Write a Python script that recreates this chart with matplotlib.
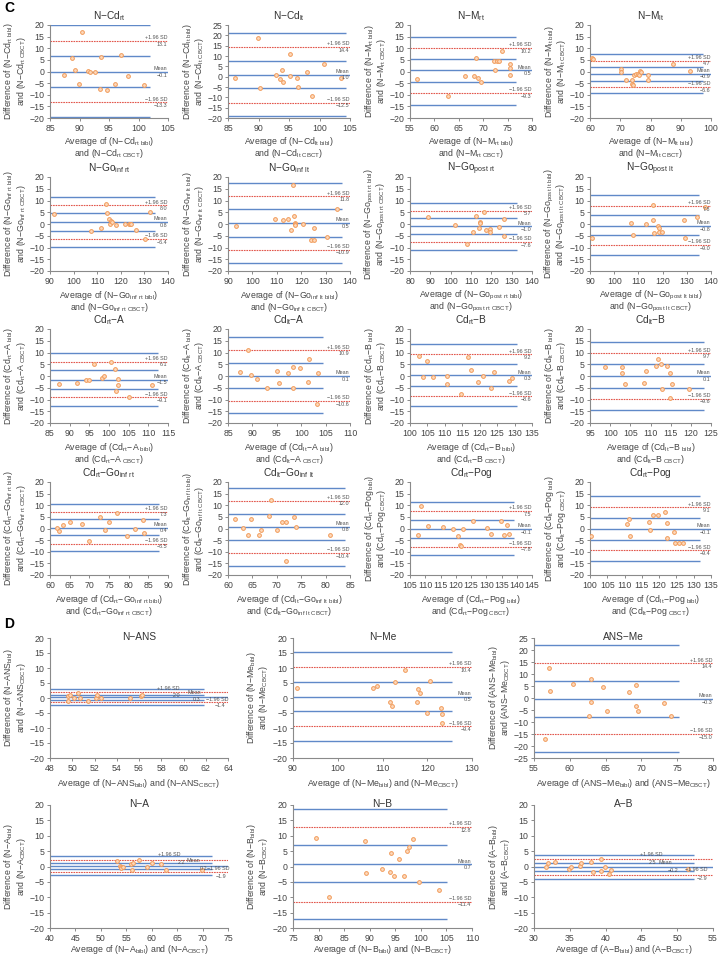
"""
Bland-Altman agreement plots, bibl vs CBCT measurements (panels C and D).
"""

import matplotlib
matplotlib.use("Agg")
import matplotlib.pyplot as plt

plt.rcParams["font.family"] = ["Liberation Sans", "DejaVu Sans"]
plt.rcParams["mathtext.default"] = "regular"

BLUE = "#6089c8"
RED = "#e2574c"
ORANGE_EDGE = "#f19a58"
ORANGE_FACE = "#fdd9bc"
GREY = "#8a8a8a"
TEXT = "#555555"
LABEL = "#444444"

# ---------------- section C ----------------
ncd_rt_avg = [87.3, 88.8, 89.2, 89.9, 90.5, 91.5, 91.8, 92.7, 93.5, 93.6, 94.7, 96.0, 97.1, 98.2, 100.9]
ncd_rt_diff = [-1.4, 6.0, 0.7, -5.3, 17.0, 0.1, -0.3, -0.3, -7.6, 6.4, -7.9, -5.4, 7.0, -2.1, -5.7]
ncd_rt_loa = [13.1, -0.1, -13.3]
ncd_rt_ci = [19.8, 6.8, -6.8, -19.6]

ncd_lt_avg = [86.1, 89.9, 90.3, 92.8, 93.6, 93.8, 94.0, 95.1, 95.1, 96.3, 96.4, 98.0, 98.7, 100.7, 103.5]
ncd_lt_diff = [-0.6, 18.6, -5.4, 0.6, -1.2, 3.0, -2.8, 11.0, 0.2, -0.7, -4.9, 2.5, -9.5, 6.0, -0.6]
ncd_lt_loa = [14.4, 1.0, -12.5]
ncd_lt_ci = [21.0, 7.8, -5.7, -19.0]

nm_rt_avg = [56.4, 62.7, 66.3, 68.1, 68.6, 68.9, 69.5, 72.5, 72.3, 72.8, 73.2, 73.9, 75.5, 75.5, 75.5]
nm_rt_diff = [-3.1, -10.6, -2.0, -2.0, 5.6, -2.7, -4.6, 0.7, 4.6, 4.6, 4.6, 9.0, 3.3, 1.4, -1.6]
nm_rt_loa = [10.2, 0.5, -9.3]
nm_rt_ci = [15.0, 5.5, -4.5, -14.2]

nm_lt_avg = [60.8, 61.1, 70.3, 70.3, 71.9, 73.9, 73.9, 74.2, 74.4, 75.3, 75.9, 76.2, 76.4, 76.7, 79.1, 79.1, 87.6, 93.0]
nm_lt_diff = [5.7, 5.3, 1.1, -0.3, -3.7, -3.7, -5.3, -5.9, -1.6, -1.0, -1.0, -1.6, 0.1, -0.4, -1.6, -3.7, 3.4, 0.4]
nm_lt_loa = [4.7, -0.9, -6.6]
nm_lt_ci = [7.6, 1.9, -3.9, -9.4]

ngoi_rt_avg = [91.7, 107.4, 111.5, 113.9, 114.3, 115.0, 115.4, 115.7, 116.1, 118.1, 121.7, 123.3, 123.8, 124.3, 126.5, 130.3, 132.4]
ngoi_rt_diff = [4.1, -2.8, -1.6, 8.5, 4.5, 2.1, -0.2, 1.4, 0.9, -0.5, 0.2, 0.2, -0.1, 0.2, -2.5, -6.3, 4.9]
ngoi_rt_loa = [8.0, 0.8, -6.4]
ngoi_rt_ci = [11.6, 4.5, -2.9, -9.9]

ngoi_lt_avg = [93.1, 109.2, 112.6, 114.4, 115.7, 116.8, 116.9, 117.4, 117.5, 117.5, 120.6, 124.0, 125.1, 125.4, 130.6, 134.7]
ngoi_lt_diff = [-0.9, 2.3, 1.6, 2.1, -2.6, 16.4, 3.3, 0.6, -0.2, -0.5, -0.2, -6.9, -6.9, -1.9, -5.5, 6.3]
ngoi_lt_loa = [11.8, 0.5, -10.9]
ngoi_lt_ci = [17.6, 6.3, -5.5, -16.4]

ngop_rt_avg = [89.0, 102.2, 108.0, 111.2, 112.6, 113.9, 114.2, 114.5, 116.2, 117.5, 119.1, 119.5, 123.6, 126.1, 126.1]
ngop_rt_diff = [2.9, -0.5, -8.6, -3.2, 3.3, -1.8, 0.9, 0.5, 5.0, -2.6, -2.3, -3.3, -1.2, 2.1, -4.9]
ngop_rt_loa = [5.7, -1.0, -7.6]
ngop_rt_ci = [9.0, 2.6, -4.2, -10.9]

ngop_lt_avg = [91.0, 106.9, 107.8, 113.3, 116.0, 116.1, 116.4, 118.1, 118.5, 118.5, 119.9, 128.9, 129.2, 134.2, 137.5]
ngop_lt_diff = [-5.8, 0.5, -4.6, -0.2, 7.9, 1.8, -3.8, -0.9, -1.9, -3.4, -3.2, 1.6, -5.8, 3.0, 7.3]
ngop_lt_loa = [7.8, -0.8, -9.0]
ngop_lt_ci = [12.3, 3.9, -4.8, -13.2]

cda_rt_avg = [87.3, 91.8, 94.2, 95.0, 96.1, 98.3, 98.7, 100.6, 101.6, 101.7, 102.3, 102.3, 105.1, 111.0]
cda_rt_diff = [-3.4, -2.9, -1.7, -1.9, 5.0, -1.0, 0.1, 5.9, 2.9, -6.3, -1.4, -3.7, -9.1, -3.7]
cda_rt_loa = [6.1, -1.5, -9.1]
cda_rt_ci = [10.0, 2.4, -5.4, -12.9]

cda_lt_avg = [87.4, 89.2, 89.7, 90.9, 93.0, 95.1, 95.4, 97.3, 98.4, 98.4, 99.8, 101.5, 101.3, 103.4, 103.3]
cda_lt_diff = [1.6, 11.0, 0.6, -1.3, -5.0, 2.3, -3.1, 1.3, 3.7, -5.0, 3.4, 7.1, -2.4, 1.1, -12.0]
cda_lt_loa = [10.9, 0.1, -10.6]
cda_lt_ci = [16.4, 5.6, -5.3, -15.7]

cdb_rt_avg = [102.7, 104.8, 103.6, 106.5, 110.5, 110.7, 114.7, 116.5, 117.5, 119.4, 121.0, 124.0, 123.1, 128.5, 129.4]
cdb_rt_diff = [8.7, 6.3, -0.3, -0.6, -0.1, -3.3, -7.7, 8.0, 2.7, -2.4, -0.1, 1.7, -5.0, -2.1, -1.0]
cdb_rt_loa = [9.2, 0.3, -8.6]
cdb_rt_ci = [13.6, 5.0, -4.3, -12.9]

cdb_lt_avg = [98.6, 102.9, 102.9, 103.8, 108.3, 109.0, 111.3, 111.9, 112.5, 112.9, 114.0, 114.8, 114.8, 115.4, 119.6]
cdb_lt_diff = [3.9, 3.7, 1.1, -3.3, -3.0, 2.1, 4.3, 7.3, 5.0, -5.7, 4.3, 1.3, -9.4, -3.4, -5.6]
cdb_lt_loa = [9.7, 0.1, -9.6]
cdb_lt_ci = [14.4, 5.0, -5.0, -14.3]

cdgo_rt_avg = [61.8, 62.3, 63.3, 65.2, 68.2, 69.8, 72.7, 74.0, 75.0, 77.0, 79.6, 81.5, 83.6, 83.9]
cdgo_rt_diff = [0.3, -1.1, 1.7, 2.6, 2.1, -5.4, 5.1, -0.7, 2.6, 6.6, -3.4, -0.4, 3.7, -1.9]
cdgo_rt_loa = [7.3, 0.4, -6.5]
cdgo_rt_ci = [10.6, 4.0, -2.9, -9.7]

cdgo_lt_avg = [61.5, 63.1, 64.0, 64.7, 66.4, 66.7, 68.5, 68.8, 70.1, 71.0, 71.9, 71.8, 73.5, 73.9, 80.8]
cdgo_lt_diff = [3.9, 0.1, -3.0, 4.0, -3.0, -0.6, 5.4, 12.1, -0.7, 2.6, 2.9, -14.1, 5.1, 0.6, -3.0]
cdgo_lt_loa = [12.0, 0.8, -10.4]
cdgo_lt_ci = [17.6, 6.4, -5.0, -16.0]

cdpog_rt_avg = [107.7, 108.6, 110.8, 115.7, 119.0, 120.9, 121.4, 121.8, 122.3, 125.8, 130.2, 131.6, 134.9, 135.9, 136.8, 137.3]
cdpog_rt_diff = [-2.6, 9.6, 1.1, 0.6, -0.3, -3.3, -7.3, -7.4, 0.0, 3.4, 0.3, -2.3, 3.4, -2.9, 1.3, -2.4]
cdpog_rt_loa = [7.5, -0.1, -7.8]
cdpog_rt_ci = [11.3, 3.7, -3.9, -11.3]

cdpog_lt_avg = [100.3, 110.7, 111.2, 111.5, 117.1, 117.3, 118.2, 119.7, 121.7, 122.2, 122.4, 124.3, 124.5, 125.6, 127.0]
cdpog_lt_diff = [-3.1, 2.1, 3.9, -3.4, 3.0, -0.6, 5.6, 6.0, 7.1, 2.3, -4.0, -1.3, -6.4, -6.1, -6.4]
cdpog_lt_loa = [9.1, -0.1, -9.4]
cdpog_lt_ci = [13.9, 4.6, -4.9, -13.9]

# ---------------- section D ----------------
nans_avg = [49.6, 49.8, 49.6, 50.5, 50.2, 50.7, 51.4, 52.1, 52.2, 52.6, 55.2, 56.2, 56.3]
nans_diff = [0.8, 1.0, -0.9, 1.8, 0.0, 0.0, -1.0, 0.0, 0.9, 0.0, -0.1, 0.6, 0.9]
nans_loa = [2.0, 0.3, -1.4]
nans_ci = [2.9, 1.1, -0.5, -2.3]

nme_avg = [90.8, 107.9, 108.8, 112.9, 115.0, 111.7, 112.1, 117.9, 118.4, 117.6, 119.9, 120.6, 123.1, 123.2, 123.4]
nme_diff = [3.5, 3.5, 4.1, 5.3, 9.5, -1.2, -2.8, 3.1, 1.8, -1.3, -5.0, 5.7, -3.3, -5.4, -8.4]
nme_loa = [10.4, 0.5, -9.4]
nme_ci = [15.4, 5.5, -4.4, -14.2]

ansme_avg = [57.1, 57.3, 56.6, 60.5, 62.9, 62.9, 62.7, 64.7, 65.2, 68.3, 69.3, 69.3, 69.5, 73.1, 74.1]
ansme_diff = [12.6, 3.0, -17.0, 6.0, 7.8, -1.8, -7.5, 4.7, -5.5, 2.6, 5.6, -3.2, -5.5, -2.1, -7.3]
ansme_loa = [14.4, -0.3, -15.0]
ansme_ci = [21.9, 7.1, -7.9, -22.6]

na_avg = [53.1, 53.7, 53.9, 54.0, 54.3, 56.0, 56.2, 56.4, 57.5, 59.0, 60.0, 61.9, 62.9, 69.9]
na_diff = [1.8, 0.3, -0.2, -0.6, -0.2, 0.9, -1.3, 1.1, 2.1, -0.1, 1.2, 0.8, -1.1, -1.3]
na_loa = [2.2, 0.2, -1.9]
na_ci = [3.4, 1.2, -0.9, -2.7]

nb_avg = [79.5, 82.1, 89.1, 89.3, 92.5, 94.1, 94.0, 94.8, 95.7, 96.7, 97.2, 97.6, 98.5, 99.7, 103.6]
nb_diff = [9.4, -10.0, 8.2, -2.2, -0.8, 4.4, -1.7, -3.0, 2.6, -3.0, 5.1, 6.5, 9.0, -5.0, -7.5]
nb_loa = [12.8, 0.7, -11.4]
nb_ci = [18.7, 7.1, -5.2, -17.1]

ab_avg = [31.7, 32.0, 32.9, 34.9, 35.1, 36.4, 36.6, 38.0, 38.3, 39.3, 39.3, 39.9, 40.5, 40.7, 51.5]
ab_diff = [0.0, 1.1, 1.5, -0.9, -0.2, 0.2, 1.3, 1.5, -1.9, 2.6, -1.4, -0.2, -2.4, -1.3, -0.9]
ab_loa = [2.5, -0.2, -2.9]
ab_ci = [3.9, 1.3, -1.5, -4.1]

W, H = 721, 957
PT = 0.72  # points per pixel at dpi 100


def fmt(v):
    return "{:.1f}".format(v).replace("-", "\u2212")


def rect(x0, x1, y0, y1):
    return [x0 / W, 1 - y1 / H, (x1 - x0) / W, (y1 - y0) / H]


def panel(avg, diff, loa, ci, title, meas, xlim, xstep, ci_end, box,
          ylim=(-20, 20), section="C", xlab_off=25, tags=None):
    return dict(avg=avg, diff=diff, loa=loa, ci=ci, title=title, meas=meas,
                xlim=xlim, xstep=xstep, ci_end=ci_end, box=box, ylim=ylim,
                section=section, xlab_off=xlab_off, tags=tags)


C_COLS = [(50, 168), (228, 350), (410, 532), (590, 711)]
C_ROWS = [(25, 118), (177, 271), (329, 423), (482, 575)]
D_COLS = [(50, 228), (293, 472), (534, 713)]
D_ROWS = [(638, 758), (805, 928)]


def cbox(r, c):
    return rect(C_COLS[c][0], C_COLS[c][1], C_ROWS[r][0], C_ROWS[r][1])


def dbox(r, c):
    return rect(D_COLS[c][0], D_COLS[c][1], D_ROWS[r][0], D_ROWS[r][1])


panels = [
    panel(ncd_rt_avg, ncd_rt_diff, ncd_rt_loa, ncd_rt_ci, "N\u2212Cd$_{rt}$",
          "N\u2212Cd$_{rt\\ @}$", (85, 105), 5, 101.9, cbox(0, 0)),
    panel(ncd_lt_avg, ncd_lt_diff, ncd_lt_loa, ncd_lt_ci, "N\u2212Cd$_{lt}$",
          "N\u2212Cd$_{lt\\ @}$", (85, 105), 5, 104.3, cbox(0, 1), ylim=(-20, 25)),
    panel(nm_rt_avg, nm_rt_diff, nm_rt_loa, nm_rt_ci, "N\u2212M$_{rt}$",
          "N\u2212M$_{rt\\ @}$", (55, 80), 5, 76.8, cbox(0, 2)),
    panel(nm_lt_avg, nm_lt_diff, nm_lt_loa, nm_lt_ci, "N\u2212M$_{lt}$",
          "N\u2212M$_{lt\\ @}$", (60, 100), 10, 97.5, cbox(0, 3)),
    panel(ngoi_rt_avg, ngoi_rt_diff, ngoi_rt_loa, ngoi_rt_ci, "N\u2212Go$_{inf\\ rt}$",
          "N\u2212Go$_{inf\\ rt\\ @}$", (90, 140), 10, 134.7, cbox(1, 0)),
    panel(ngoi_lt_avg, ngoi_lt_diff, ngoi_lt_loa, ngoi_lt_ci, "N\u2212Go$_{inf\\ lt}$",
          "N\u2212Go$_{inf\\ lt\\ @}$", (90, 140), 10, 136.9, cbox(1, 1)),
    panel(ngop_rt_avg, ngop_rt_diff, ngop_rt_loa, ngop_rt_ci, "N\u2212Go$_{post\\ rt}$",
          "N\u2212Go$_{post\\ rt\\ @}$", (80, 140), 10, 132.6, cbox(1, 2)),
    panel(ngop_lt_avg, ngop_lt_diff, ngop_lt_loa, ngop_lt_ci, "N\u2212Go$_{post\\ lt}$",
          "N\u2212Go$_{post\\ lt\\ @}$", (90, 140), 10, 135.1, cbox(1, 3)),
    panel(cda_rt_avg, cda_rt_diff, cda_rt_loa, cda_rt_ci, "Cd$_{rt}$\u2212A",
          "Cd$_{rt}$\u2212A$_{\\ @}$", (85, 115), 5, 112.5, cbox(2, 0)),
    panel(cda_lt_avg, cda_lt_diff, cda_lt_loa, cda_lt_ci, "Cd$_{lt}$\u2212A",
          "Cd$_{lt}$\u2212A$_{\\ @}$", (85, 110), 5, 104.4, cbox(2, 1)),
    panel(cdb_rt_avg, cdb_rt_diff, cdb_rt_loa, cdb_rt_ci, "Cd$_{rt}$\u2212B",
          "Cd$_{rt}$\u2212B$_{\\ @}$", (100, 135), 5, 130.7, cbox(2, 2)),
    panel(cdb_lt_avg, cdb_lt_diff, cdb_lt_loa, cdb_lt_ci, "Cd$_{lt}$\u2212B",
          "Cd$_{lt}$\u2212B$_{\\ @}$", (95, 125), 5, 123.2, cbox(2, 3)),
    panel(cdgo_rt_avg, cdgo_rt_diff, cdgo_rt_loa, cdgo_rt_ci, "Cd$_{rt}$\u2212Go$_{inf\\ rt}$",
          "Cd$_{rt}$\u2212Go$_{inf\\ rt\\ @}$", (60, 90), 5, 87.7, cbox(3, 0)),
    panel(cdgo_lt_avg, cdgo_lt_diff, cdgo_lt_loa, cdgo_lt_ci, "Cd$_{lt}$\u2212Go$_{inf\\ lt}$",
          "Cd$_{lt}$\u2212Go$_{inf\\ lt\\ @}$", (60, 85), 5, 84.0, cbox(3, 1)),
    panel(cdpog_rt_avg, cdpog_rt_diff, cdpog_rt_loa, cdpog_rt_ci, "Cd$_{rt}$\u2212Pog",
          "Cd$_{rt}$\u2212Pog$_{\\ @}$", (105, 145), 5, 139.0, cbox(3, 2)),
    panel(cdpog_lt_avg, cdpog_lt_diff, cdpog_lt_loa, cdpog_lt_ci, "Cd$_{rt}$\u2212Pog",
          "Cd$_{lt}$\u2212Pog$_{\\ @}$", (100, 135), 5, 131.9, cbox(3, 3)),
    # section D
    panel(nans_avg, nans_diff, nans_loa, nans_ci, "N\u2212ANS", "N\u2212ANS$_{@}$",
          (48, 64), 2, 61.8, dbox(0, 0), section="D", xlab_off=26,
          tags=[("+1.96 SD", 58.6, 3.3), ("2.0", 59.4, 0.7), ("Mean", 61.0, 1.9),
                ("0.3", 61.2, -0.4), ("\u22121.96 SD", 63.0, -0.4), ("\u22121.4", 63.3, -2.6)]),
    panel(nme_avg, nme_diff, nme_loa, nme_ci, "N\u2212Me", "N\u2212Me$_{@}$",
          (90, 130), 10, 125.5, dbox(0, 1), section="D", xlab_off=26),
    panel(ansme_avg, ansme_diff, ansme_loa, ansme_ci, "ANS\u2212Me", "ANS\u2212Me$_{@}$",
          (55, 80), 5, 75.2, dbox(0, 2), ylim=(-25, 25), section="D", xlab_off=26),
    panel(na_avg, na_diff, na_loa, na_ci, "N\u2212A", "N\u2212A$_{@}$",
          (40, 75), 5, 71.9, dbox(1, 0), section="D", xlab_off=21,
          tags=[("+1.96 SD", 63.5, 3.8), ("2.2", 65.8, 1.3), ("Mean", 68.1, 1.8),
                ("0.2", 70.2, -0.8), ("\u22121.96 SD", 73.0, -0.5), ("\u22121.9", 73.7, -3.2)]),
    panel(nb_avg, nb_diff, nb_loa, nb_ci, "N\u2212B", "N\u2212B$_{@}$",
          (75, 110), 5, 105.2, dbox(1, 1), section="D", xlab_off=21),
    panel(ab_avg, ab_diff, ab_loa, ab_ci, "A\u2212B", "A\u2212B$_{@}$",
          (30, 55), 5, 52.3, dbox(1, 2), section="D", xlab_off=21,
          tags=[("+1.96 SD", 46.4, 4.0), ("2.5", 46.5, 1.3), ("Mean", 48.4, 1.3),
                ("\u22120.2", 49.4, -1.4), ("\u22121.96 SD", 52.7, -1.1), ("\u22122.9", 53.5, -4.0)]),
]


def put(ax, s, anchor, dx_px, dy_px, rotation=0):
    """Text at a pixel offset from an axes-fraction anchor."""
    ax.annotate(s, anchor, xycoords="axes fraction", xytext=(dx_px * PT, dy_px * PT),
                textcoords="offset points", ha="center", va="center",
                rotation=rotation, fontsize=6.3, color=LABEL, annotation_clip=False)


def draw(ax, p):
    x0, x1 = p["xlim"]
    y0, y1 = p["ylim"]
    up, mean, lo = p["loa"]

    ax.hlines(p["ci"], x0, p["ci_end"], colors=BLUE, lw=1.0, zorder=1)
    ax.axhline(mean, color=BLUE, lw=1.0, zorder=1)
    for v in (up, lo):
        ax.axhline(v, color=RED, lw=0.8, ls=(0, (1.5, 0.8)), zorder=2)
    ax.plot(p["avg"], p["diff"], "o", ms=2.7, mfc=ORANGE_FACE, mec=ORANGE_EDGE,
            mew=0.7, zorder=3)

    if p["tags"] is None:
        tr = ax.get_yaxis_transform()
        for name, v in zip(("+1.96 SD", "Mean", "\u22121.96 SD"), p["loa"]):
            ax.annotate(name, (0.995, v), xycoords=tr, xytext=(0, 0.5),
                        textcoords="offset points", ha="right", va="bottom",
                        fontsize=3.9, color=TEXT)
            ax.annotate(fmt(v), (0.995, v), xycoords=tr, xytext=(0, -0.6),
                        textcoords="offset points", ha="right", va="top",
                        fontsize=3.9, color=TEXT)
    else:
        for name, tx, ty in p["tags"]:
            ax.text(tx, ty, name, ha="center", va="center", fontsize=3.9,
                    color=TEXT, zorder=4)

    ax.set_xlim(x0, x1)
    ax.set_ylim(y0, y1)
    ax.set_xticks(range(x0, x1 + 1, p["xstep"]))
    ax.set_yticks(range(y0, y1 + 1, 5))

    for side in ("top", "right"):
        ax.spines[side].set_visible(False)
    for side in ("left", "bottom"):
        ax.spines[side].set_color(GREY)
        ax.spines[side].set_linewidth(0.8)
    ax.tick_params(direction="out", length=2.5, width=0.7, color=GREY,
                   labelsize=6.3, labelcolor=LABEL, pad=1.5)

    bibl = p["meas"].replace("@", "bibl")
    cbct = p["meas"].replace("@", "CBCT")

    # y label, two lines
    put(ax, "Difference of ({})".format(bibl), (0, 0.5), -41, 0, rotation=90)
    put(ax, "and ({})".format(cbct), (0, 0.5), -29, 0, rotation=90)

    if p["section"] == "C":
        put(ax, "Average of ({})".format(bibl), (0.5, 0), 0, -24)
        put(ax, "and ({})".format(cbct), (0.5, 0), 0, -36)
        ax.set_title(p["title"], fontsize=7.3, color="#333333", pad=4)
    else:
        put(ax, "Average of ({}) and ({})".format(bibl, cbct), (0.5, 0), 0, -p["xlab_off"])
        ax.text(0.5, 1.01, p["title"], transform=ax.transAxes, ha="center",
                va="center", fontsize=7.3, color="#333333")


def main():
    fig = plt.figure(figsize=(W / 100, H / 100), dpi=100)
    for p in panels:
        ax = fig.add_axes(p["box"])
        draw(ax, p)

    fig.text(4 / W, 1 - 8 / H, "C", fontsize=10, fontweight="bold", va="center")
    fig.text(4 / W, 1 - 624 / H, "D", fontsize=10, fontweight="bold", va="center")
    fig.savefig("out.png", dpi=100)


if __name__ == "__main__":
    main()
